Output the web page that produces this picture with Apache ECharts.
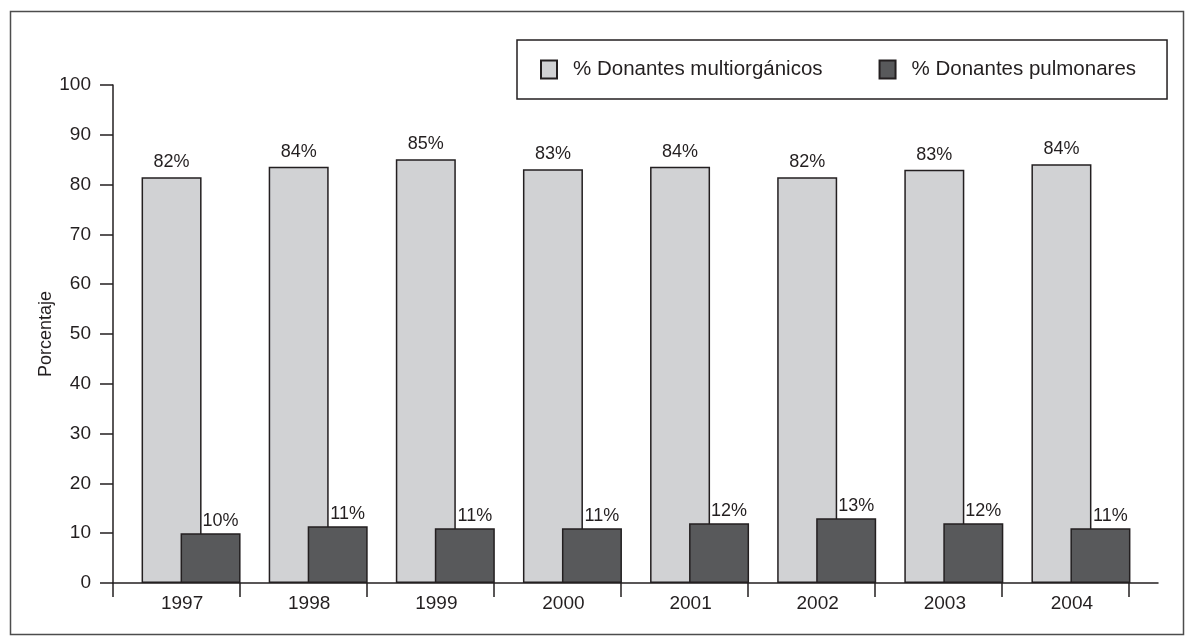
<!DOCTYPE html>
<html>
<head>
<meta charset="utf-8">
<script src="https://cdn.jsdelivr.net/npm/echarts@6/dist/echarts.min.js"></script>
<style>
html,body{margin:0;padding:0;background:#fff}
#c{width:1189px;height:640px}
</style>
</head>
<body>
<div id="c"></div>
<script>
// ---- data ----
const years = ['1997', '1998', '1999', '2000', '2001', '2002', '2003', '2004'];
const multiorganicos = [81.5, 83.6, 85.1, 83.1, 83.6, 81.5, 83.0, 84.1];
const pulmonares = [10.0, 11.4, 11.0, 11.0, 12.0, 13.0, 12.0, 11.0];
const seriesNames = ['% Donantes multiorgánicos', '% Donantes pulmonares'];
const yAxisTitle = 'Porcentaje';

// ---- styles ----
const FONT = '"Liberation Sans", Arial, Helvetica, sans-serif';
const INK = '#231f20';
const LIGHT = '#d1d2d4';
const DARK = '#58595b';

const tickPositions = years.map((_, i) => i).concat([years.length]);

const chart = echarts.init(document.getElementById('c'), null, {renderer: 'canvas'});
chart.setOption({
  animation: false,
  backgroundColor: '#fff',
  textStyle: {fontFamily: FONT, color: INK},
  graphic: [{
    type: 'rect', left: 8, top: 9, silent: true,
    shape: {width: 1173, height: 623},
    style: {fill: 'none', stroke: '#4d4d4d', lineWidth: 1.5}
  }],
  legend: {
    left: 517, top: 40,
    data: seriesNames,
    selectedMode: false,
    icon: 'rect',
    itemWidth: 16, itemHeight: 18,
    itemGap: 56,
    padding: [19, 31, 19, 23],
    borderColor: INK, borderWidth: 1.5,
    textStyle: {fontSize: 20.5, color: INK, fontFamily: FONT, padding: [0, 0, 0, 11]}
  },
  grid: [
    {left: 127.5, right: 44.5, top: 85, bottom: 57, containLabel: false},
    {left: 113, right: 31, top: 85, bottom: 57, containLabel: false}
  ],
  xAxis: [
    {
      type: 'category', gridIndex: 0, data: years,
      axisLine: {show: false}, axisTick: {show: false}, splitLine: {show: false},
      axisLabel: {fontSize: 19, color: INK, fontFamily: FONT, margin: 11, padding: [0, 18, 0, 0]}
    },
    {
      type: 'value', gridIndex: 1, min: 0, max: 1045 / 127,
      axisLine: {show: true, onZero: false, lineStyle: {color: INK, width: 1.5}},
      axisTick: {show: true, customValues: tickPositions, length: 14, lineStyle: {color: INK, width: 1.5}},
      axisLabel: {show: false}, splitLine: {show: false}
    }
  ],
  yAxis: [
    {type: 'value', gridIndex: 0, min: 0, max: 100, show: false, splitLine: {show: false}},
    {
      type: 'value', gridIndex: 1, min: 0, max: 100, interval: 10,
      name: yAxisTitle, nameLocation: 'middle', nameGap: 58, nameMoveOverlap: false,
      nameTextStyle: {fontSize: 18, color: INK, fontFamily: FONT},
      axisLine: {show: true, lineStyle: {color: INK, width: 1.5}},
      axisTick: {show: true, length: 13, lineStyle: {color: INK, width: 1.5}},
      axisLabel: {fontSize: 19, color: INK, fontFamily: FONT, margin: 22},
      splitLine: {show: false}
    }
  ],
  series: [
    {
      name: seriesNames[0], type: 'bar', xAxisIndex: 0, yAxisIndex: 0,
      data: multiorganicos, barWidth: 60, barGap: '-35%',
      itemStyle: {color: LIGHT, borderColor: INK, borderWidth: 1.5},
      label: {show: true, position: 'top', distance: 6, fontSize: 18, color: INK, fontFamily: FONT,
        formatter: p => Math.round(p.value) + '%'}
    },
    {
      name: seriesNames[1], type: 'bar', xAxisIndex: 0, yAxisIndex: 0,
      data: pulmonares, barWidth: 60, barGap: '-35%',
      itemStyle: {color: DARK, borderColor: INK, borderWidth: 1.5},
      label: {show: true, position: 'top', distance: 3, offset: [10, 0], fontSize: 18, color: INK, fontFamily: FONT,
        formatter: p => Math.round(p.value) + '%'}
    }
  ]
});
</script>
</body>
</html>
